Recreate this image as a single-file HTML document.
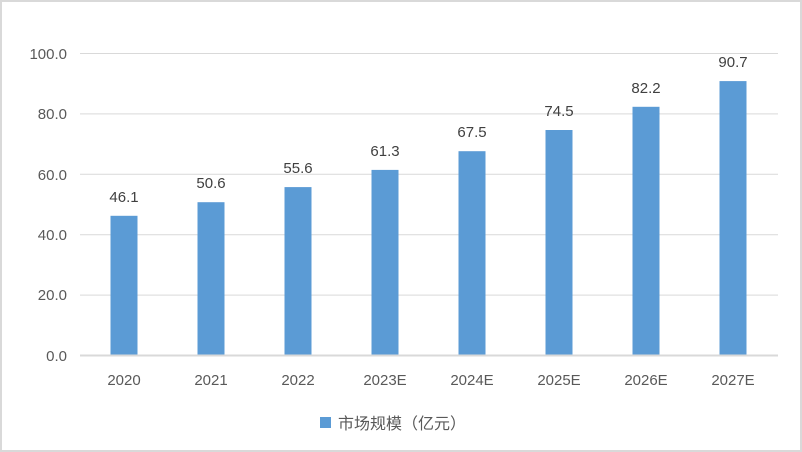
<!DOCTYPE html>
<html><head><meta charset="utf-8"><style>
html,body{margin:0;padding:0;background:#fff;}
svg{display:block;font-family:"Liberation Sans","Noto Sans CJK SC",sans-serif;}
</style></head><body>
<svg width="802" height="452" viewBox="0 0 802 452">
<rect x="1" y="1" width="800" height="450" fill="#fff" stroke="#d9d9d9" stroke-width="2"/>
<g stroke="#d9d9d9" stroke-width="1">
<line x1="80" y1="53.5" x2="778" y2="53.5"/>
<line x1="80" y1="113.9" x2="778" y2="113.9"/>
<line x1="80" y1="174.3" x2="778" y2="174.3"/>
<line x1="80" y1="234.7" x2="778" y2="234.7"/>
<line x1="80" y1="295.1" x2="778" y2="295.1"/>
</g>
<g fill="#595959" font-size="15" text-anchor="end">
<text x="67" y="59">100.0</text>
<text x="67" y="119">80.0</text>
<text x="67" y="180">60.0</text>
<text x="67" y="240">40.0</text>
<text x="67" y="300">20.0</text>
<text x="67" y="361">0.0</text>
</g>
<g fill="#5b9bd5">
<rect x="110.5" y="215.8" width="27" height="139.2"/>
<rect x="197.5" y="202.2" width="27" height="152.8"/>
<rect x="284.5" y="187.1" width="27" height="167.9"/>
<rect x="371.5" y="169.9" width="27" height="185.1"/>
<rect x="458.5" y="151.2" width="27" height="203.8"/>
<rect x="545.5" y="130" width="27" height="225"/>
<rect x="632.5" y="106.8" width="27" height="248.2"/>
<rect x="719.5" y="81.1" width="27" height="273.9"/>
</g>
<line x1="80" y1="355.5" x2="778" y2="355.5" stroke="#d9d9d9" stroke-width="2"/>
<g fill="#404040" font-size="15" text-anchor="middle">
<text x="124" y="202">46.1</text>
<text x="211" y="188">50.6</text>
<text x="298" y="173">55.6</text>
<text x="385" y="156">61.3</text>
<text x="472" y="137">67.5</text>
<text x="559" y="116">74.5</text>
<text x="646" y="93">82.2</text>
<text x="733" y="67">90.7</text>
</g>
<g fill="#595959" font-size="15" text-anchor="middle">
<text x="124" y="385">2020</text>
<text x="211" y="385">2021</text>
<text x="298" y="385">2022</text>
<text x="385" y="385">2023E</text>
<text x="472" y="385">2024E</text>
<text x="559" y="385">2025E</text>
<text x="646" y="385">2026E</text>
<text x="733" y="385">2027E</text>
</g>
<rect x="320" y="417" width="11" height="11" fill="#5b9bd5"/>
<text x="338" y="429" font-size="16" fill="#595959">市场规模（亿元）</text>
</svg>
</body></html>
